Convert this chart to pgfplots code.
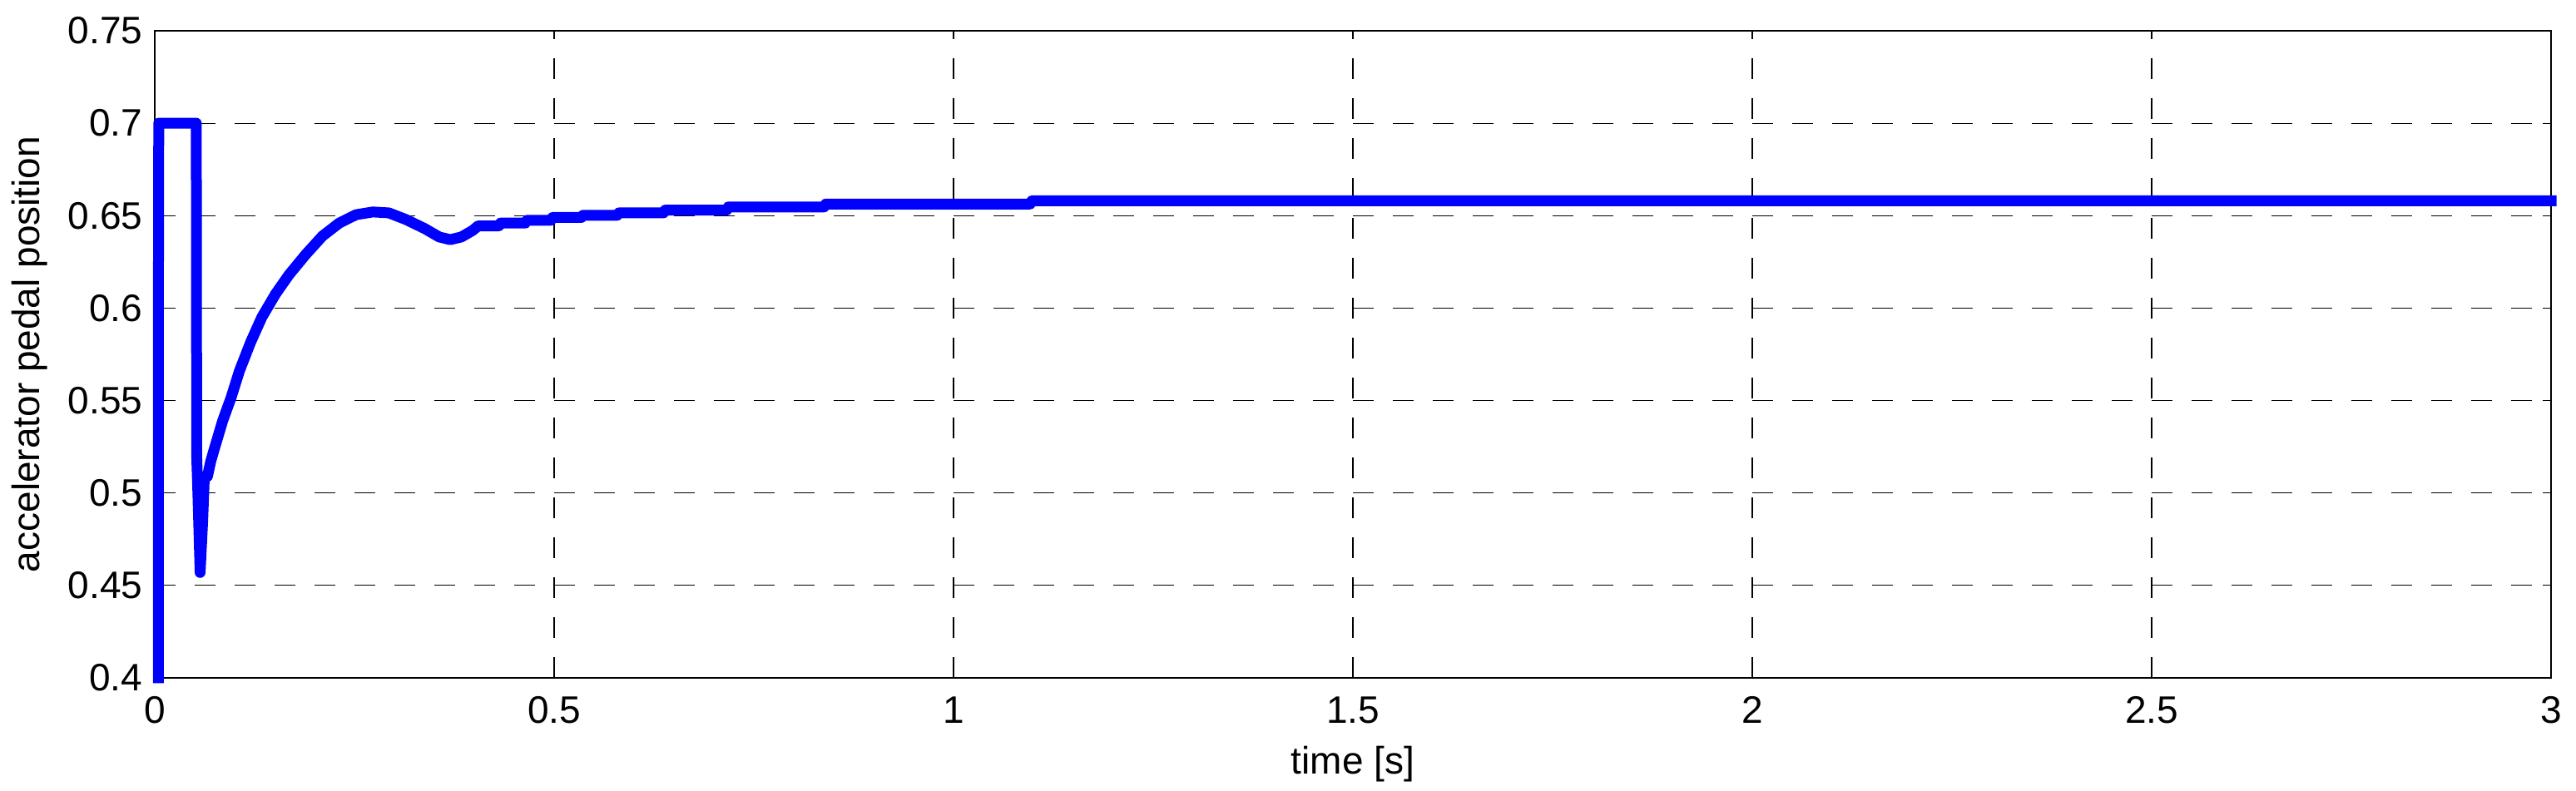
\documentclass[border=0pt]{standalone}
\usepackage{fontspec}
\setmainfont{Liberation Sans}
\usepackage{pgfplots}
\pgfplotsset{compat=1.18}
\definecolor{mblue}{RGB}{0,0,255}

% pedal position vs time
\pgfplotstableread{
t      pos
0.0045 0.400
0.0045 0.580
0.0050 0.700
0.0520 0.700
0.0525 0.520
0.0540 0.500
0.0568 0.457
0.0600 0.485
0.0620 0.508
0.0660 0.509
0.0700 0.517
0.0747 0.524
0.0850 0.539
0.0955 0.5515
0.1060 0.566
0.1200 0.5815
0.1340 0.595
0.1510 0.6075
0.1680 0.618
0.1890 0.629
0.2100 0.639
0.2310 0.646
0.2520 0.6505
0.2730 0.652
0.2930 0.6515
0.3140 0.648
0.3380 0.643
0.3560 0.6385
0.3700 0.637
0.3840 0.6385
0.3980 0.642
0.4050 0.6445
0.4310 0.6445
0.4330 0.6460
0.4640 0.6460
0.4660 0.6475
0.4960 0.6475
0.4980 0.6490
0.5340 0.6490
0.5360 0.6502
0.5790 0.6502
0.5810 0.6515
0.6370 0.6515
0.6390 0.6530
0.7160 0.6530
0.7180 0.6547
0.8380 0.6547
0.8400 0.6563
1.0960 0.6563
1.0980 0.6580
3.0000 0.6580
}\pedal

\begin{document}
\begin{tikzpicture}
\begin{axis}[
  name=ax,
  width=720pt, height=194.5pt, scale only axis,
  xmin=0, xmax=3, ymin=0.4, ymax=0.75,
  xtick={0,0.5,1,1.5,2,2.5,3},
  ytick={0.4,0.45,0.5,0.55,0.6,0.65,0.7,0.75},
  /pgf/number format/assume math mode=true,
  /pgf/number format/.cd, fixed, precision=2, /pgfplots/.cd,
  tick label style={font=\fontsize{11.5}{13.8}\selectfont},
  label style={font=\fontsize{11.5}{13.8}\selectfont},
  xticklabel style={anchor=north, inner sep=0pt, yshift=-5.5pt},
  yticklabel style={anchor=east, inner sep=0pt, xshift=-3.5pt},
  tick align=inside, major tick length=2.5pt,
  tick style={black, line width=0.3pt},
  axis line style={black, line width=0.5pt},
  grid=major,
  major grid style={black, line width=0.3pt, dash pattern=on 6.2pt off 5.8pt},
  xlabel={time [s]},
  ylabel={accelerator pedal position},
  xlabel style={at={(axis description cs:0.5,-0.1337)}, anchor=center},
  ylabel style={at={(axis description cs:-0.0521,0.5)}, anchor=center},
  clip=false,
]
\addplot[mblue, line width=3.25pt, line join=round, line cap=rect] table[x=t, y=pos] {\pedal};
\end{axis}
\pgfresetboundingbox
\path[use as bounding box] ([shift={(-46.5pt,-34pt)}]ax.south west) rectangle ([shift={(7.5pt,9.25pt)}]ax.north east);
\end{tikzpicture}
\end{document}
